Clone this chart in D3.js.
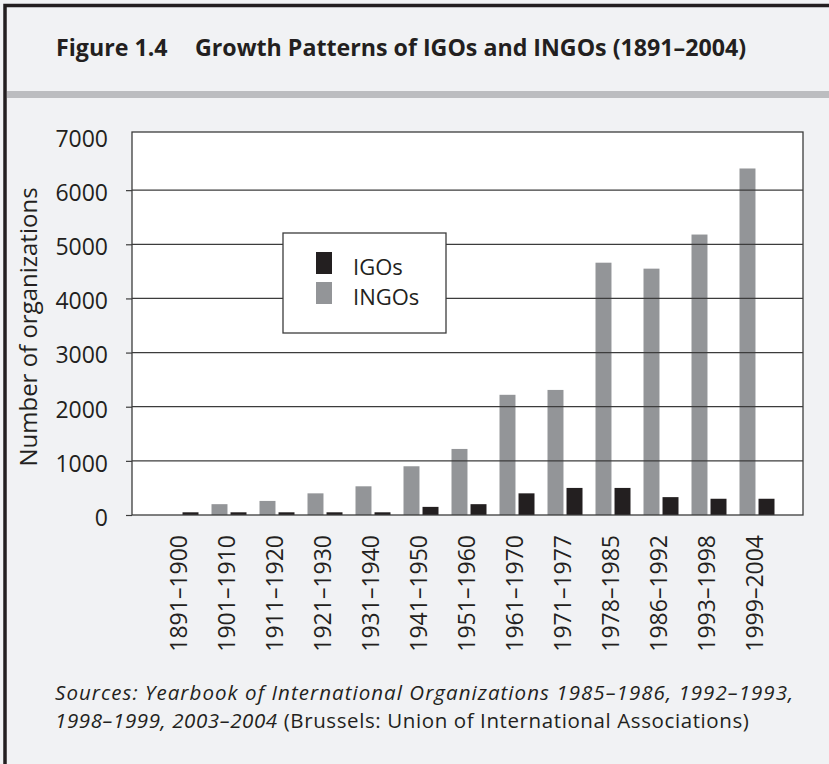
<!DOCTYPE html>
<html>
<head>
<meta charset="utf-8">
<script src="https://cdn.jsdelivr.net/npm/d3@7"></script>
<style>
	html, body { margin: 0; padding: 0; background: #f1f2f4; }
	svg { display: block; font-family: 'Open Sans', sans-serif; }
</style>
</head>
<body>
<div id="chart"></div>
<script>
// Periods along the x axis.
var periods = [ '1891–1900', '1901–1910', '1911–1920', '1921–1930', '1931–1940', '1941–1950',
	'1951–1960', '1961–1970', '1971–1977', '1978–1985', '1986–1992', '1993–1998', '1999–2004' ];

// Number of organizations per period.
var ingos = [ 0, 200, 260, 400, 530, 900, 1220, 2220, 2310, 4660, 4550, 5180, 6400 ];
var igos = [ 50, 50, 50, 50, 50, 150, 200, 400, 500, 500, 330, 300, 300 ];

var yTicks = [ 0, 1000, 2000, 3000, 4000, 5000, 6000, 7000 ];

( function () {

	var width = 829, height = 764;
	var plot = { left: 132, right: 803, top: 132, bottom: 515 };

	var svg = d3.select( '#chart' ).append( 'svg' )
		.attr( 'width', width )
		.attr( 'height', height );

	// Figure frame: light panel, dark top/left rule, grey band under the title.
	svg.append( 'rect' ).attr( 'width', width ).attr( 'height', height ).attr( 'fill', '#f1f2f4' );
	svg.append( 'path' )
		.attr( 'd', 'M5,' + height + 'V5.5H' + width )
		.attr( 'fill', 'none' )
		.attr( 'stroke', '#231f20' )
		.attr( 'stroke-width', 3.5 );
	svg.append( 'rect' )
		.attr( 'x', 7 ).attr( 'y', 91 )
		.attr( 'width', width - 7 ).attr( 'height', 7 )
		.attr( 'fill', '#bcbdc0' );

	// Title.
	var title = svg.append( 'text' )
		.attr( 'y', 56 )
		.attr( 'font-size', 23.2 )
		.attr( 'font-weight', 'bold' )
		.attr( 'fill', '#231f20' );
	title.append( 'tspan' ).attr( 'x', 56 ).text( 'Figure 1.4' );
	title.append( 'tspan' ).attr( 'x', 195 ).text( 'Growth Patterns of IGOs and INGOs (1891–2004)' );

	// Scales.
	var x0 = d3.scaleBand()
		.domain( periods )
		.range( [ 135.4, 802.6 ] )
		.paddingInner( 0 )
		.paddingOuter( 0.45 );

	var x1 = d3.scaleBand()
		.domain( [ 'INGOs', 'IGOs' ] )
		.range( [ 6.5, 41.5 ] )
		.paddingInner( 0.16 );

	var y = d3.scaleLinear()
		.domain( [ 0, 7000 ] )
		.range( [ plot.bottom, 136 ] );

	// Plot background.
	svg.append( 'rect' )
		.attr( 'x', plot.left ).attr( 'y', plot.top )
		.attr( 'width', plot.right - plot.left )
		.attr( 'height', plot.bottom - plot.top )
		.attr( 'fill', '#fff' );

	// Bars.
	var rows = periods.map( function ( p, i ) {
		return { period: p, INGOs: ingos[i], IGOs: igos[i] };
	} );
	var colors = { INGOs: '#939598', IGOs: '#231f20' };

	var group = svg.append( 'g' ).selectAll( 'g' )
		.data( rows )
		.enter()
		.append( 'g' )
		.attr( 'transform', function ( d ) { return 'translate(' + x0( d.period ) + ',0)'; } );

	group.selectAll( 'rect' )
		.data( function ( d ) { return [ 'INGOs', 'IGOs' ].map( function ( k ) { return { key: k, value: d[k] }; } ); } )
		.enter()
		.append( 'rect' )
		.attr( 'x', function ( d ) { return x1( d.key ); } )
		.attr( 'y', function ( d ) { return y( d.value ); } )
		.attr( 'width', x1.bandwidth() )
		.attr( 'height', function ( d ) { return y( 0 ) - y( d.value ); } )
		.attr( 'fill', function ( d ) { return colors[d.key]; } );

	// Gridlines over the bars.
	svg.append( 'g' ).selectAll( 'line' )
		.data( yTicks.filter( function ( t ) { return t > 0 && t < 7000; } ) )
		.enter()
		.append( 'line' )
		.attr( 'x1', plot.left ).attr( 'x2', plot.right )
		.attr( 'y1', function ( d ) { return y( d ); } )
		.attr( 'y2', function ( d ) { return y( d ); } )
		.attr( 'stroke', '#3c3c3c' )
		.attr( 'stroke-width', 1.2 );

	// Y axis.
	var yAxis = d3.axisLeft( y )
		.tickValues( yTicks )
		.tickFormat( d3.format( 'd' ) )
		.tickSize( 6 )
		.tickPadding( 18 );
	var gy = svg.append( 'g' )
		.attr( 'transform', 'translate(' + plot.left + ',0)' )
		.call( yAxis );
	gy.select( '.domain' ).remove();
	gy.selectAll( '.tick line' ).attr( 'stroke', '#3c3c3c' ).attr( 'stroke-width', 1.2 );
	gy.selectAll( '.tick' ).filter( function ( d ) { return d === 7000; } ).select( 'line' ).remove();
	gy.selectAll( '.tick text' )
		.attr( 'font-family', "'Open Sans', sans-serif" )
		.attr( 'font-size', 23 )
		.attr( 'fill', '#231f20' )
		.attr( 'dy', '0.45em' );

	// Plot frame.
	svg.append( 'rect' )
		.attr( 'x', plot.left ).attr( 'y', plot.top )
		.attr( 'width', plot.right - plot.left )
		.attr( 'height', plot.bottom - plot.top )
		.attr( 'fill', 'none' )
		.attr( 'stroke', '#3c3c3c' )
		.attr( 'stroke-width', 1.3 );

	// Y axis title.
	svg.append( 'text' )
		.attr( 'transform', 'translate(37,327) rotate(-90)' )
		.attr( 'text-anchor', 'middle' )
		.attr( 'font-size', 24 )
		.attr( 'fill', '#231f20' )
		.text( 'Number of organizations' );

	// X labels, rotated.
	svg.append( 'g' ).selectAll( 'text' )
		.data( periods )
		.enter()
		.append( 'text' )
		.attr( 'transform', function ( d ) {
			return 'translate(' + ( x0( d ) + x0.bandwidth() / 2 ) + ',535) rotate(-90)';
		} )
		.attr( 'text-anchor', 'end' )
		.attr( 'dy', '0.27em' )
		.attr( 'font-size', 23 )
		.attr( 'fill', '#231f20' )
		.text( function ( d ) { return d; } );

	// Legend.
	var legend = svg.append( 'g' );
	legend.append( 'rect' )
		.attr( 'x', 283 ).attr( 'y', 233 )
		.attr( 'width', 163 ).attr( 'height', 100 )
		.attr( 'fill', '#fff' )
		.attr( 'stroke', '#3c3c3c' )
		.attr( 'stroke-width', 1.3 );
	[ 'IGOs', 'INGOs' ].forEach( function ( k, i ) {
		legend.append( 'rect' )
			.attr( 'x', 316 ).attr( 'y', 252 + i * 30 )
			.attr( 'width', 16 ).attr( 'height', 22 )
			.attr( 'fill', colors[k] );
		legend.append( 'text' )
			.attr( 'x', 353 ).attr( 'y', 275 + i * 30 )
			.attr( 'font-size', 22 )
			.attr( 'fill', '#231f20' )
			.text( k );
	} );

	// Source note.
	var note = svg.append( 'g' ).attr( 'font-size', 20.5 ).attr( 'fill', '#231f20' );
	note.append( 'text' )
		.attr( 'x', 55 ).attr( 'y', 700 )
		.attr( 'font-style', 'italic' )
		.attr( 'letter-spacing', 1.05 )
		.text( 'Sources: Yearbook of International Organizations 1985–1986, 1992–1993,' );
	var line2 = note.append( 'text' ).attr( 'x', 55 ).attr( 'y', 728 ).attr( 'letter-spacing', 0.6 );
	line2.append( 'tspan' ).attr( 'font-style', 'italic' ).text( '1998–1999, 2003–2004' );
	line2.append( 'tspan' ).text( ' (Brussels: Union of International Associations)' );

} )();
</script>
</body>
</html>
